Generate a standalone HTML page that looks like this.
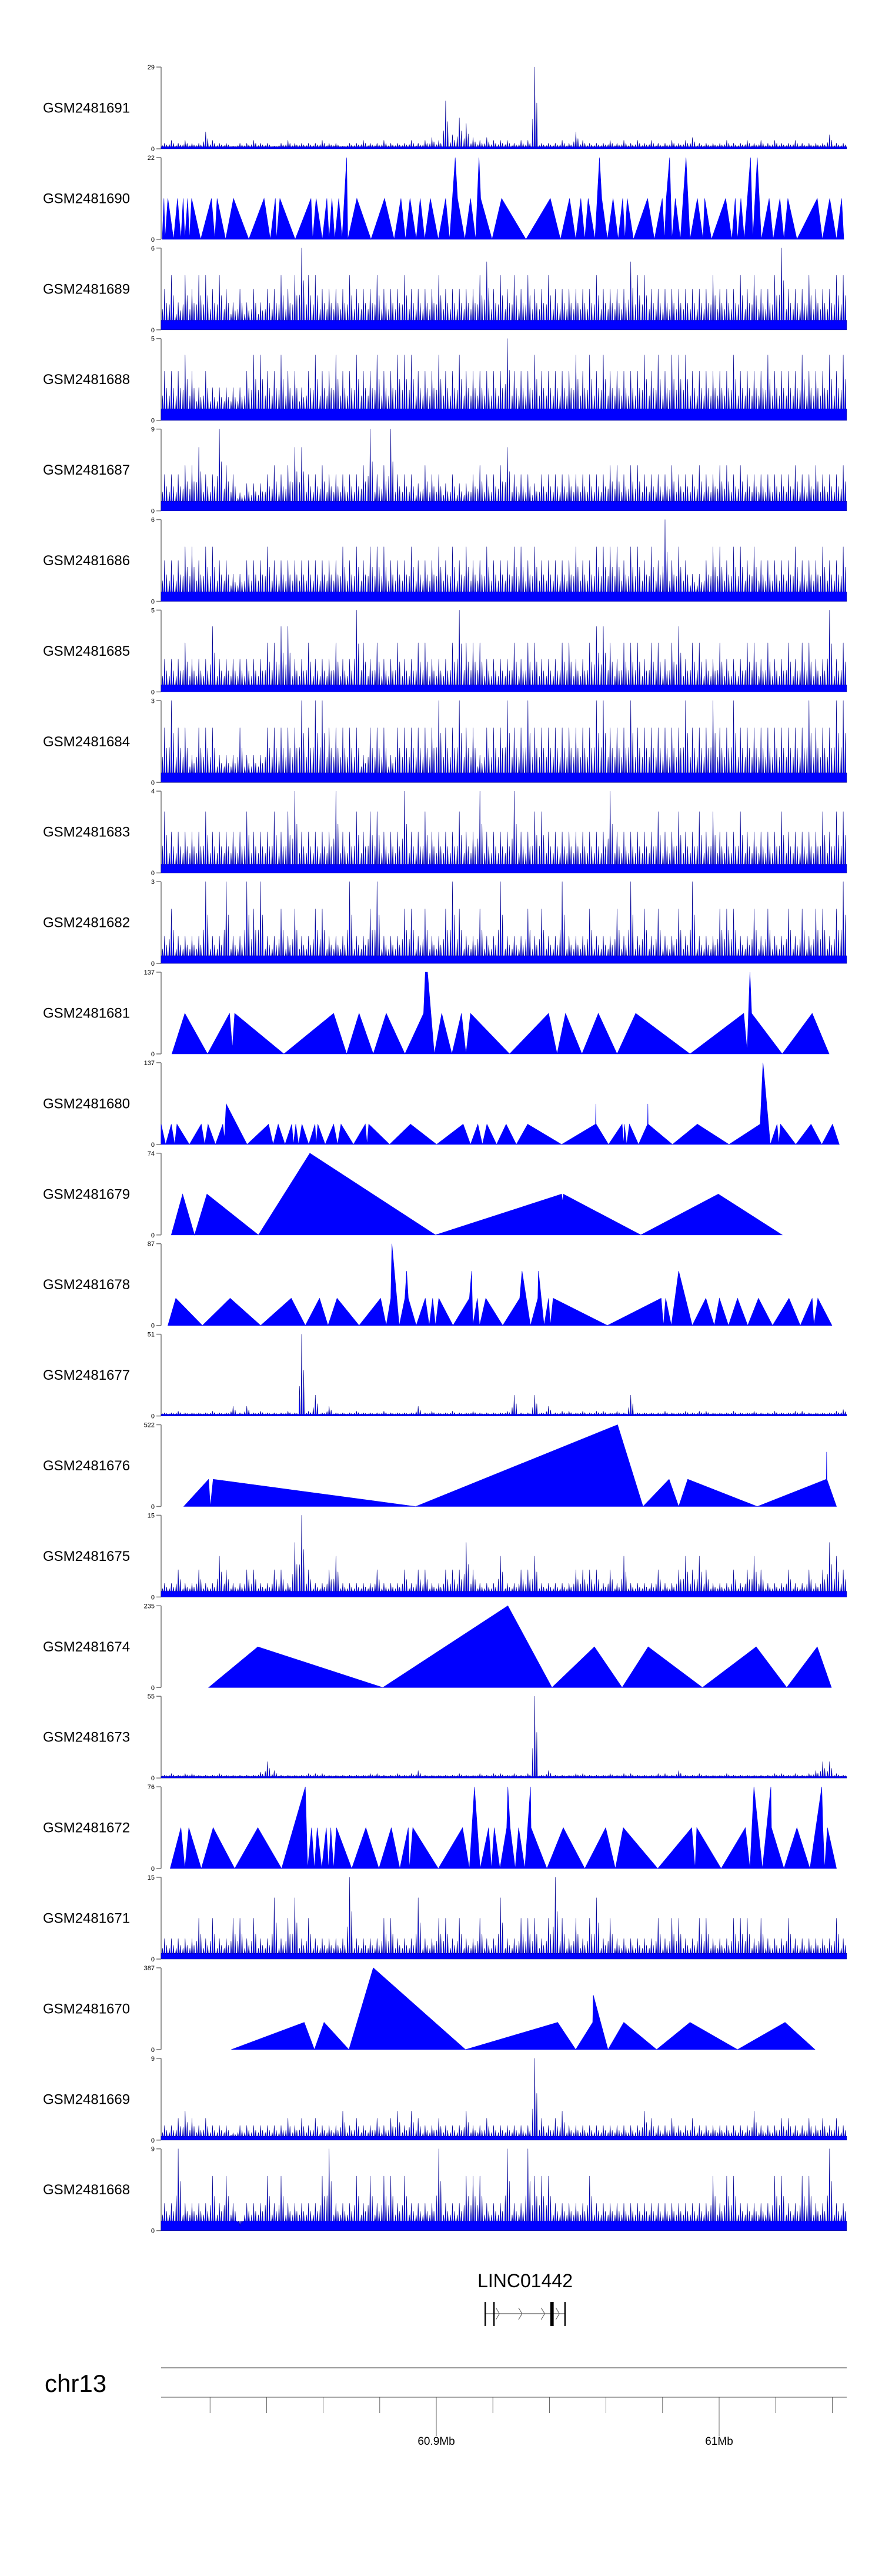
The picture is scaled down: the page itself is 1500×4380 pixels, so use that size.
<!DOCTYPE html>
<html><head><meta charset="utf-8"><title>Coverage tracks chr13</title>
<style>
html,body{margin:0;padding:0;background:#fff;}
svg{display:block;font-family:"Liberation Sans",Arial,sans-serif;}
</style></head>
<body>
<svg id="chart" width="1500" height="4380" viewBox="0 0 1500 4380" xmlns="http://www.w3.org/2000/svg">
<rect x="0" y="0" width="1500" height="4380" fill="#fff"/>
</svg>
<script>
// ---- data ----
// positions are in 2-kb units from 60.8027 Mb
const sampleNames = ["GSM2481691","GSM2481690","GSM2481689","GSM2481688","GSM2481687","GSM2481686","GSM2481685","GSM2481684","GSM2481683","GSM2481682","GSM2481681","GSM2481680","GSM2481679","GSM2481678","GSM2481677","GSM2481676","GSM2481675","GSM2481674","GSM2481673","GSM2481672","GSM2481671","GSM2481670","GSM2481669","GSM2481668"];
const sampleMax = [29,22,6,5,9,6,5,3,4,3,137,137,74,87,51,522,15,235,55,76,15,387,9,9];
const denseFloor = {GSM2481691:1,GSM2481689:1,GSM2481688:1,GSM2481687:1.5,GSM2481686:1,GSM2481685:0.6,GSM2481684:0.5,GSM2481683:0.6,GSM2481682:0.4,GSM2481677:1.5,GSM2481675:1.5,GSM2481673:1.5,GSM2481671:1.5,GSM2481669:0.6,GSM2481668:1.5};

const d1691 = [2,3,2,3,2,2,6,3,2,2,1,2,2,3,2,2,1,2,3,2,2,2,2,3,2,2,1,2,2,3,2,2,3,2,2,2,3,2,3,4,3,17,5,11,9,4,3,4,3,3,3,2,3,3,29,2,2,2,3,2,6,3,2,2,2,3,2,3,2,3,2,3,2,2,3,2,3,4,2,2,2,2,3,2,2,3,2,3,2,3,2,2,3,2,2,2,2,5,2,2];
const d1689 = [3,4,2,4,3,4,4,3,4,3,2,3,2,3,2,3,3,4,3,4,6,4,4,3,3,3,3,4,3,3,3,4,3,3,3,4,3,3,3,3,4,3,3,3,3,3,4,5,3,4,3,4,3,4,3,3,4,3,3,3,3,3,3,4,3,3,3,3,5,4,4,3,3,3,3,3,3,3,3,3,4,3,3,3,4,3,4,3,3,4,6,3,3,3,4,3,3,3,4,4];
const d1688 = [3,3,3,4,3,2,3,2,2,2,2,2,3,4,4,3,3,4,3,3,2,3,4,3,3,4,3,3,4,3,3,4,3,3,4,4,4,3,3,3,4,3,3,4,3,3,3,3,3,3,5,3,3,3,4,3,3,3,3,3,4,3,4,3,4,3,3,3,3,3,4,3,4,3,4,4,4,3,3,3,3,3,3,4,3,3,3,3,4,3,3,3,3,4,3,3,3,4,3,4];
const d1687 = [4,4,4,5,5,7,4,4,9,5,4,2,3,3,3,4,5,4,5,7,7,4,4,5,4,4,4,4,4,5,9,4,5,9,4,4,4,3,5,4,4,3,4,3,3,4,5,4,4,5,7,4,4,4,3,4,4,4,4,4,4,4,4,4,4,5,5,4,5,5,4,4,4,4,5,4,4,4,5,4,4,5,5,4,5,4,4,4,4,4,4,4,5,4,4,5,4,4,4,5];
const d1686 = [3,3,3,4,4,3,4,4,3,3,2,2,3,3,3,4,3,3,3,3,3,3,3,3,3,3,4,3,4,3,4,4,4,3,3,3,4,3,3,3,4,3,4,3,4,3,3,4,3,3,3,4,4,3,4,3,3,3,3,3,4,3,3,4,4,4,4,3,4,4,3,4,3,6,3,4,3,2,2,3,4,4,3,4,4,3,4,3,3,3,3,3,4,3,3,3,4,3,3,4];
const d1685 = [2,2,2,3,2,2,2,4,2,2,2,2,2,2,2,3,3,4,4,2,2,3,2,2,2,3,2,2,5,3,2,3,2,2,3,2,2,3,3,2,2,2,3,5,3,3,3,2,2,2,2,3,2,3,3,2,2,2,3,3,2,2,3,4,4,3,2,3,3,3,2,3,3,2,3,4,2,3,3,2,2,3,2,2,2,3,3,2,3,2,2,3,2,3,3,2,2,5,2,3];
const d1684 = [2,3,2,2,1,2,2,2,1,1,1,2,1,1,1,2,2,2,2,2,3,2,3,3,2,2,2,2,2,1,2,2,2,1,2,2,2,2,2,2,3,2,2,3,2,2,1,2,2,2,3,2,2,3,2,2,2,2,2,2,2,2,2,3,3,2,2,2,3,2,2,2,2,2,2,2,3,2,2,2,3,2,2,3,2,2,2,2,2,2,2,2,2,2,3,2,2,2,3,3];
const d1683 = [3,2,2,2,2,2,3,2,2,2,2,2,3,2,2,2,3,2,3,4,2,2,2,2,2,4,2,2,3,2,3,3,2,2,2,4,2,2,3,2,2,2,2,3,2,2,4,2,2,2,2,4,2,2,3,3,2,2,2,2,2,2,2,2,2,4,2,2,2,2,2,2,3,2,2,3,2,2,3,2,3,2,2,2,3,2,2,2,2,2,3,2,2,2,2,2,3,2,3,3];
const d1682 = [1,2,1,1,1,1,3,1,1,3,1,1,3,2,3,1,1,2,1,2,1,1,2,2,1,1,1,3,1,1,2,3,1,1,1,2,2,1,2,1,1,2,3,2,1,1,2,1,1,3,1,1,1,2,1,2,1,1,3,1,1,1,2,1,1,1,2,1,3,1,2,1,2,1,1,2,1,3,1,1,1,2,2,2,1,1,2,1,2,1,1,2,1,2,1,2,2,1,2,3];
const d1677 = [2,2,3,2,2,2,2,3,2,2,6,2,6,2,3,2,2,2,3,2,51,3,13,2,6,2,2,2,3,2,2,2,3,2,2,2,2,6,2,3,2,2,3,2,2,3,2,2,2,2,3,13,2,2,13,2,6,2,3,3,2,3,2,3,3,2,3,2,13,2,2,2,2,3,2,2,3,2,3,3,2,2,2,3,2,2,3,2,2,3,2,2,3,3,2,2,2,2,3,4];
const d1675 = [2.5,2.5,5,2.5,2.5,5,2.5,2.5,7.5,5,2.5,2.5,5,5,2.5,2.5,5,5,2.5,10,15,5,2.5,2.5,5,7.5,2.5,2.5,2.5,2.5,2.5,5,2.5,2.5,2.5,5,2.5,5,5,2.5,2.5,5,5,5,10,5,2.5,2.5,2.5,7.5,2.5,2.5,5,5,7.5,2.5,2.5,2.5,2.5,2.5,5,5,5,5,2.5,5,2.5,7.5,2.5,2.5,2.5,2.5,5,2.5,2.5,5,7.5,5,7.5,5,2.5,2.5,2.5,5,2.5,5,7.5,5,2.5,2.5,2.5,5,2.5,2.5,5,2.5,5,10,7.5,5];
const d1673 = [2,3,2,3,3,2,2,2,3,2,2,2,2,2,4,11,5,2,2,2,2,3,3,3,2,2,2,2,2,2,3,3,2,2,3,2,3,5,2,2,2,2,2,3,2,2,3,2,3,3,2,3,2,3,55,2,5,2,2,2,3,3,2,2,2,3,2,3,3,2,2,2,3,3,2,5,2,2,3,2,2,2,3,2,2,2,2,2,2,3,3,2,3,2,3,5,11,11,3,2];
const d1671 = [3.75,3.75,3.75,3.75,3.75,7.5,3.75,7.5,3.75,3.75,7.5,7.5,3.75,7.5,3.75,3.75,11.25,3.75,7.5,11.25,3.75,7.5,3.75,3.75,3.75,3.75,3.75,15,3.75,3.75,3.75,3.75,7.5,7.5,3.75,3.75,3.75,11.25,3.75,3.75,7.5,7.5,3.75,7.5,3.75,3.75,7.5,3.75,3.75,11.25,3.75,3.75,7.5,7.5,7.5,3.75,7.5,15,7.5,3.75,7.5,3.75,7.5,11.25,3.75,7.5,3.75,3.75,3.75,3.75,3.75,3.75,7.5,3.75,7.5,7.5,3.75,3.75,7.5,7.5,3.75,3.75,3.75,7.5,7.5,7.5,3.75,7.5,3.75,3.75,3.75,7.5,3.75,3.75,3.75,3.75,3.75,3.75,7.5,3.75];
const d1669 = [1.6,1.6,2.4,3.2,2.4,1.6,2.4,1.6,1.6,1.6,0.8,1.6,1.6,1.6,1.6,1.6,1.6,1.6,2.4,1.6,2.4,1.6,2.4,1.6,1.6,1.6,3.2,1.6,2.4,1.6,1.6,2.4,1.6,2.4,3.2,1.6,3.2,2.4,1.6,1.6,2.4,1.6,1.6,1.6,3.2,1.6,1.6,2.4,1.6,1.6,1.6,1.6,1.6,1.6,9,2.4,1.6,2.4,3.2,1.6,1.6,1.6,1.6,1.6,1.6,1.6,1.6,1.6,1.6,1.6,3.2,2.4,1.6,1.6,2.4,1.6,1.6,2.4,1.6,1.6,1.6,1.6,1.6,1.6,1.6,1.6,3.2,1.6,1.6,1.6,2.4,2.4,1.6,1.6,2.4,1.6,2.4,1.6,2.4,1.6];
const d1668 = [3,3,9,3,3,3,3,6,3,6,3,0.5,3,3,3,6,3,6,3,3,3,3,3,6,9,3,3,3,6,3,6,3,6,6,3,6,3,3,3,3,9,3,3,3,6,6,6,3,3,3,9,3,3,9,6,6,6,3,3,3,3,3,6,3,3,3,3,3,3,3,3,3,3,3,3,3,3,3,3,3,6,3,6,6,3,3,3,3,3,6,6,3,3,6,6,3,3,9,3,3];

const s1690 = [[0.2,0],[0.5,11],[0.7,0],[1.2,11],[2.2,0],[2.9,11],[3.5,0],[3.9,11],[4.2,0],[4.7,11],[5.0,0],[5.4,11],[7.0,0],[8.9,11],[9.5,0],[9.9,11],[11.4,0],[12.8,11],[15.5,0],[18.2,11],[19.3,0],[20.2,11],[20.4,0],[21.0,11],[23.7,0],[26.5,11],[26.8,0],[27.4,11],[28.5,0],[29.3,11],[29.7,0],[30.2,11],[30.7,0],[31.4,11],[32.0,0],[32.8,22],[33.0,0],[34.6,11],[37.1,0],[39.5,11],[41.2,0],[42.4,11],[43.2,0],[44.0,11],[45.1,0],[45.8,11],[46.6,0],[47.6,11],[49.0,0],[50.3,11],[51.0,0],[52.0,22],[52.4,11],[53.7,0],[54.7,11],[55.6,0],[56.2,22],[56.5,11],[58.5,0],[60.2,11],[64.5,0],[68.8,11],[70.6,0],[72.2,11],[73.3,0],[74.2,11],[74.9,0],[75.5,11],[76.7,0],[77.1,11],[77.5,22],[77.9,11],[78.9,0],[79.9,11],[80.8,0],[81.6,11],[82.0,0],[82.4,11],[83.5,0],[86.0,11],[87.2,0],[88.6,11],[89.0,0],[89.3,11],[89.9,22],[90.3,0],[90.9,11],[91.8,0],[92.8,22],[93.5,0],[94.8,11],[95.8,0],[96.1,11],[97.3,0],[99.8,11],[100.9,0],[101.5,11],[101.9,0],[102.5,11],[103.1,0],[104.2,22],[104.6,0],[105.4,22],[106.1,0],[107.5,11],[108.2,0],[109.4,11],[110.1,0],[110.8,11],[112.4,0],[116.0,11],[116.9,0],[118.2,11],[119.4,0],[120.3,11],[120.7,0]];
const s1681 = [[1.9,0],[4.2,68],[8.2,0],[12.1,68],[12.6,10],[13.0,68],[21.7,0],[30.5,68],[32.8,0],[35.0,68],[37.5,0],[39.8,68],[43.1,0],[46.4,68],[46.7,137],[47.1,137],[48.3,0],[49.6,68],[51.4,0],[53.1,68],[53.9,0],[54.7,68],[61.6,0],[68.5,68],[70.0,0],[71.5,68],[74.4,0],[77.3,68],[80.6,0],[83.9,68],[93.5,0],[103.0,68],[103.6,5],[104.1,137],[104.4,68],[109.8,0],[115.1,68],[118.1,0]];
const s1680 = [[0.0,34],[0.8,0],[1.8,34],[2.4,0],[2.8,34],[5.0,0],[7.1,34],[7.7,0],[8.3,34],[9.6,0],[10.9,34],[11.2,10],[11.5,68],[15.2,0],[19.0,34],[19.8,0],[20.7,34],[21.9,0],[23.1,34],[23.4,0],[23.8,34],[24.3,0],[24.9,34],[26.1,0],[27.2,34],[27.4,0],[27.7,34],[29.0,0],[30.5,34],[31.2,0],[31.8,34],[34.0,0],[36.1,34],[36.4,0],[36.7,34],[40.4,0],[44.1,34],[48.7,0],[53.4,34],[54.7,0],[56.0,34],[56.8,0],[57.6,34],[59.3,0],[61.0,34],[62.8,0],[64.8,34],[70.8,0],[76.8,34],[76.85,68],[76.9,34],[79.1,0],[81.5,34],[81.8,0],[81.9,34],[82.3,0],[82.8,34],[84.4,0],[86.0,34],[86.05,68],[86.1,34],[90.4,0],[94.8,34],[100.4,0],[105.9,34],[106.4,137],[107.7,0],[108.9,34],[109.2,0],[109.5,34],[112.2,0],[114.9,34],[116.8,0],[118.7,34],[119.9,0]];
const s1679 = [[1.8,0],[3.8,37],[5.9,0],[8.1,37],[17.2,0],[26.3,74],[48.5,0],[70.8,37],[71.0,30],[71.1,37],[84.8,0],[98.5,37],[109.8,0]];
const s1678 = [[1.2,0],[2.6,29],[7.3,0],[12.2,29],[17.6,0],[23.0,29],[25.5,0],[28.0,29],[29.5,0],[31.1,29],[35.0,0],[38.8,29],[39.8,0],[40.6,29],[40.8,87],[42.1,0],[43.1,29],[43.4,58],[43.7,29],[45.1,0],[46.7,29],[47.4,0],[48.0,29],[48.5,0],[49.1,29],[51.6,0],[54.5,29],[54.9,58],[55.1,0],[55.9,29],[56.3,0],[57.4,29],[60.4,0],[63.4,29],[63.8,58],[65.3,0],[66.6,29],[66.7,58],[67.7,0],[68.5,29],[68.8,0],[69.3,29],[78.9,0],[88.4,29],[88.8,0],[89.2,29],[90.2,0],[91.5,58],[93.9,0],[96.3,29],[97.8,0],[98.7,29],[100.3,0],[101.9,29],[103.7,0],[105.6,29],[108.1,0],[111.0,29],[113.0,0],[115.1,29],[115.4,0],[116.1,29],[118.6,0]];
const s1676 = [[4.0,0],[8.4,174],[8.7,0],[9.2,174],[45.0,0],[80.7,522],[85.2,0],[89.8,174],[91.5,0],[93.1,174],[105.4,0],[117.6,174],[117.65,348],[117.7,174],[119.4,0]];
const s1674 = [[8.4,0],[17.1,117],[39.2,0],[61.3,235],[69.1,0],[76.6,117],[81.5,0],[86.1,117],[95.7,0],[105.2,117],[110.6,0],[116.0,117],[118.5,0]];
const s1672 = [[1.6,0],[3.5,38],[4.2,0],[4.9,38],[7.1,0],[9.2,38],[13.0,0],[17.1,38],[21.3,0],[25.5,76],[25.9,0],[26.6,38],[27.1,0],[27.6,38],[28.4,0],[29.2,38],[29.6,0],[30.0,38],[30.5,0],[31.0,38],[33.7,0],[36.2,38],[38.5,0],[40.7,38],[42.2,0],[43.7,38],[43.9,0],[44.5,38],[49.0,0],[53.3,38],[54.5,0],[55.4,76],[56.4,0],[57.9,38],[58.4,0],[58.9,38],[59.9,0],[61.1,38],[61.3,76],[61.7,38],[62.6,0],[63.2,38],[64.3,0],[65.3,76],[65.4,38],[68.2,0],[71.1,38],[74.9,0],[78.6,38],[80.3,0],[81.7,38],[87.8,0],[93.8,38],[94.4,0],[94.7,38],[99.0,0],[103.3,38],[104.1,0],[104.8,76],[106.3,0],[107.8,76],[107.9,38],[110.1,0],[112.4,38],[114.7,0],[116.8,76],[117.0,38],[117.3,0],[117.8,38],[119.4,0]];
const s1670 = [[12.4,0],[25.3,129],[27.1,0],[28.8,129],[33.2,0],[37.5,387],[53.8,0],[70.1,129],[73.3,0],[76.3,129],[76.4,258],[79.0,0],[81.8,129],[87.6,0],[93.5,129],[101.9,0],[110.3,129],[115.6,0]];

const denseData = {GSM2481691:d1691,GSM2481689:d1689,GSM2481688:d1688,GSM2481687:d1687,GSM2481686:d1686,GSM2481685:d1685,GSM2481684:d1684,GSM2481683:d1683,GSM2481682:d1682,GSM2481677:d1677,GSM2481675:d1675,GSM2481673:d1673,GSM2481671:d1671,GSM2481669:d1669,GSM2481668:d1668};
const sparseData = {GSM2481690:s1690,GSM2481681:s1681,GSM2481680:s1680,GSM2481679:s1679,GSM2481678:s1678,GSM2481676:s1676,GSM2481674:s1674,GSM2481672:s1672,GSM2481670:s1670};

const axisTicksMb = [60.82,60.84,60.86,60.88,60.90,60.92,60.94,60.96,60.98,61.00,61.02,61.04];
const axisLabels = [[60.90,"60.9Mb"],[61.00,"61Mb"]];
const geneName = "LINC01442";
const geneExons = [[57.3,0.25],[58.85,0.25],[69.1,0.6],[71.4,0.25]];
const geneSpan = [57.3,71.4];
const geneChevrons = [59.5,63.5,67.5,70.1];

// ---- scales ----
const START_MB = 60.8027;
const X0 = 274, PX_PER_UNIT = 9.62, BIN_UNITS = 1.212;
const TRACK_TOP = 114, TRACK_PITCH = 153.9, TRACK_H = 139;
const xScale = u => X0 + u * PX_PER_UNIT;
const mbScale = mb => X0 + (mb - START_MB) * 500 * PX_PER_UNIT;
const yScale = (v, max, i) => TRACK_TOP + TRACK_PITCH * i + TRACK_H - (v / max) * TRACK_H;

const NS = "http://www.w3.org/2000/svg";
const svg = document.getElementById("chart");
function mk(tag, attrs, parent) {
  const el = document.createElementNS(NS, tag);
  for (const k in attrs) el.setAttribute(k, attrs[k]);
  (parent || svg).appendChild(el);
  return el;
}

sampleNames.forEach((name, i) => {
  const max = sampleMax[i];
  const top = TRACK_TOP + TRACK_PITCH * i, base = top + TRACK_H;
  const g = mk("g", {});
  
  

  const lab = mk("text", {x: 73, y: top + TRACK_H / 2 + 8, "font-size": 24, fill: "#000"}, g);
  lab.textContent = name;
  
  

  const ax = mk("line", {x1: X0, y1: top, x2: X0, y2: base, stroke: "#777", "stroke-width": 1.5}, g);
  
  
  [[max, top], [0, base]].forEach(t => {
    const tk = mk("line", {x1: X0 - 8, y1: t[1], x2: X0, y2: t[1], stroke: "#777", "stroke-width": 1.5}, g);
    
    
    const tl = mk("text", {x: X0 - 11, y: t[1] + 4, "font-size": 11, "text-anchor": "end", fill: "#000"}, g);
    tl.textContent = String(t[0]);
    
    
  });

  let d = "";
  if (denseData[name]) {
    const vals = denseData[name], fl = denseFloor[name] * 0.7;
    const fy = yScale(fl, max, i).toFixed(1);
    d = "M" + xScale(0).toFixed(1) + "," + base + " L" + xScale(0).toFixed(1) + "," + fy;
    vals.forEach((v, b) => {
      const c0 = b * BIN_UNITS;
      const sub = [[0.2, fl + (v - fl) * 0.35], [0.5, v], [0.8, fl + (v - fl) * 0.55]];
      sub.forEach(s => {
        const c = c0 + s[0] * BIN_UNITS, w = BIN_UNITS * 0.09;
        d += " L" + xScale(c - w).toFixed(1) + "," + fy;
        d += " L" + xScale(c).toFixed(1) + "," + yScale(s[1], max, i).toFixed(1);
        d += " L" + xScale(c + w).toFixed(1) + "," + fy;
      });
    });
    const end = vals.length * BIN_UNITS;
    d += " L" + xScale(end).toFixed(1) + "," + fy + " L" + xScale(end).toFixed(1) + "," + base + " Z";
    const p = mk("path", {d: d, fill: "#0000ff", stroke: "#00008b", "stroke-width": 0.6, "stroke-linejoin": "round"}, g);
    
    
  } else {
    const pts = sparseData[name];
    d = "M" + xScale(pts[0][0]).toFixed(1) + "," + base;
    pts.forEach(pt => { d += " L" + xScale(pt[0]).toFixed(1) + "," + yScale(pt[1], max, i).toFixed(1); });
    d += " L" + xScale(pts[pts.length - 1][0]).toFixed(1) + "," + base + " Z";
    const p = mk("path", {d: d, fill: "#0000ff", stroke: "#0000ee", "stroke-width": 0.6}, g);
    
    
  }
});

// gene track
const gg = mk("g", {});


const gl = mk("text", {x: xScale((geneSpan[0] + geneSpan[1]) / 2), y: 3889, "font-size": 32, "text-anchor": "middle", fill: "#000"}, gg);
gl.textContent = geneName;


const intr = mk("line", {x1: xScale(geneSpan[0]), y1: 3934, x2: xScale(geneSpan[1]), y2: 3934, stroke: "#333", "stroke-width": 1}, gg);


geneChevrons.forEach(c => {
  const ch = mk("polyline", {points: (xScale(c) - 3) + ",3924 " + (xScale(c) + 3) + ",3934 " + (xScale(c) - 3) + ",3944", fill: "none", stroke: "#555", "stroke-width": 1}, gg);
  
  
});
geneExons.forEach(e => {
  const w = Math.max(e[1] * PX_PER_UNIT, 2);
  const ex = mk("rect", {x: xScale(e[0]) - w / 2, y: 3914, width: w, height: 41, fill: "#000"}, gg);
  
  
});

// genome axis
const ga = mk("g", {});


const chr = mk("text", {x: 76, y: 4067, "font-size": 42, fill: "#000"}, ga);
chr.textContent = "chr13";


const l1 = mk("line", {x1: X0, y1: 4026, x2: 1440, y2: 4026, stroke: "#999", "stroke-width": 2}, ga);


const l2 = mk("line", {x1: X0, y1: 4076, x2: 1440, y2: 4076, stroke: "#888", "stroke-width": 1.5}, ga);


axisTicksMb.forEach(mb => {
  const major = axisLabels.some(a => Math.abs(a[0] - mb) < 1e-6);
  const t = mk("line", {x1: mbScale(mb), y1: 4076, x2: mbScale(mb), y2: major ? 4142 : 4103, stroke: "#444", "stroke-width": 0.8}, ga);
  
  
});
axisLabels.forEach(a => {
  const t = mk("text", {x: mbScale(a[0]), y: 4157, "font-size": 19, "text-anchor": "middle", fill: "#000"}, ga);
  t.textContent = a[1];
  
  
});
</script>
</body></html>
